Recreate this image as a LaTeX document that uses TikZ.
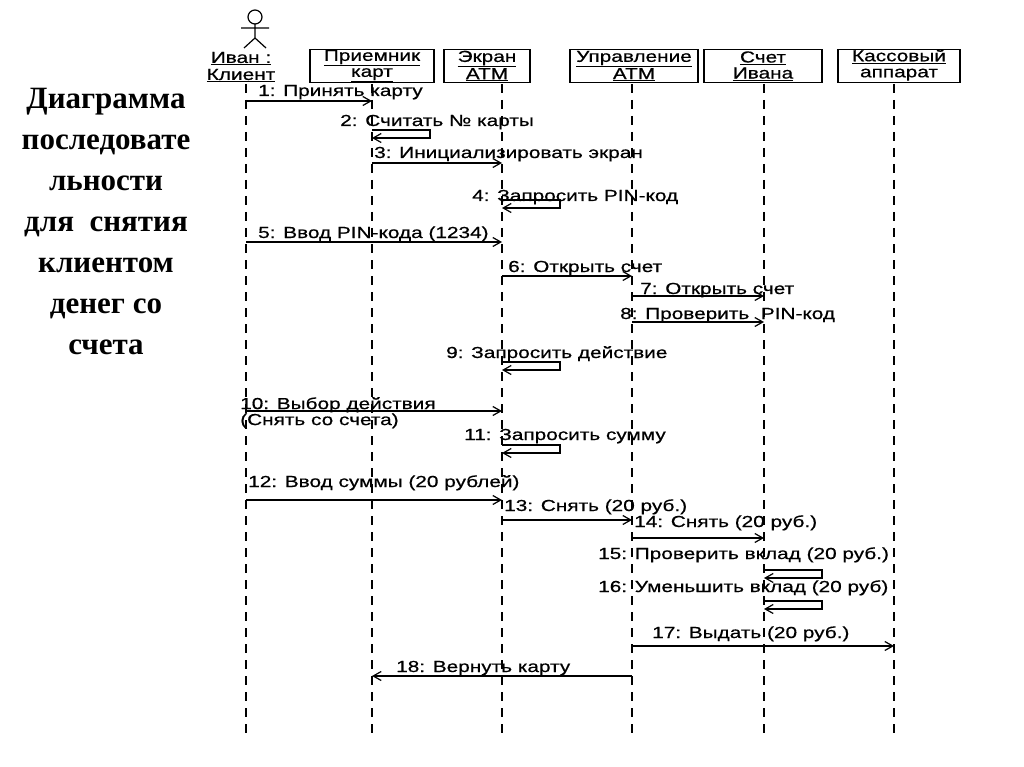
\documentclass[tikz,border=0pt]{standalone}
\usepackage{fontspec}
\setmainfont{Liberation Sans}[FakeStretch=1.3,FakeBold=0.6]
\newfontfamily\titlefont{Liberation Serif}
\usetikzlibrary{arrows.meta}
\begin{document}
\begin{tikzpicture}[x=1pt,y=-1pt,
  obj/.style={draw,line width=1.3pt,minimum height=33pt,inner sep=0pt,font=\fontsize{16}{16}\selectfont,align=center},
  life/.style={line width=1.4pt,dash pattern=on 9pt off 7pt},
  msg/.style={line width=1.2pt,-{Straight Barb[length=8pt,width=9pt]}},
  lab/.style={font=\fontsize{16}{16}\selectfont,anchor=base west,inner sep=0pt},
  every node/.append style={text=black}]
\useasboundingbox (0,0) rectangle (1024,767);
\def\ul#1{\underline{#1}}
% title
\node[font=\titlefont\bfseries\fontsize{31}{41}\selectfont,align=center] (title) at (106,222)
 {Диаграмма\\последовате\\льности\\для \ снятия\\клиентом\\денег со\\счета};
% actor
\draw[line width=1.2pt] (255,17) circle (7);
\draw[line width=1.2pt] (255,24) -- (255,38) (241,28) -- (269,28) (255,38) -- (244,48) (255,38) -- (266,48);
\node[font=\fontsize{16}{17}\selectfont,align=center,inner sep=0pt] (c0) at (241,67) {\ul{Иван :}\\\ul{Клиент}};
\node[obj,minimum width=124pt] (c1) at (372,66) {\ul{Приемник}\\\ul{карт}};
\node[obj,minimum width=86pt] (c2) at (487,66) {\ul{Экран}\\\ul{АТМ}};
\node[obj,minimum width=128pt] (c3) at (634,66) {\ul{Управление}\\\ul{АТМ}};
\node[obj,minimum width=118pt] (c4) at (763,66) {\ul{Счет}\\\ul{Ивана}};
\node[obj,minimum width=122pt] (c5) at (899,66) {\ul{Кассовый}\\\ul{аппарат}};
\foreach \i/\x in {0/246,1/372,2/502,3/632,4/764,5/894}{
  \coordinate (t\i) at (\x,84); \coordinate (b\i) at (\x,740);
  \draw[life] (t\i) -- (b\i);}
\newcommand\mk[2]{\coordinate (#1) at (#2);}
\mk{a1}{246,101}\mk{a1e}{372,101}
\draw[msg] (a1) -- (a1e); \node[lab] (l1) at (258,96) {1: Принять карту};
\mk{s2}{372,130}
\draw[msg] (s2) -- ++(58,0) -- ++(0,8) -- ++(-58,0); \node[lab] (l2) at (340,126) {2: Считать № карты};
\mk{a3}{372,163}\mk{a3e}{502,163}
\draw[msg] (a3) -- (a3e); \node[lab] (l3) at (374,158) {3: Инициализировать экран};
\mk{s4}{502,200}
\draw[msg] (s4) -- ++(58,0) -- ++(0,8) -- ++(-58,0); \node[lab] (l4) at (472,201) {4: Запросить PIN-код};
\mk{a5}{246,242}\mk{a5e}{502,242}
\draw[msg] (a5) -- (a5e); \node[lab] (l5) at (258,238) {5: Ввод PIN-кода (1234)};
\mk{a6}{502,276}\mk{a6e}{632,276}
\draw[msg] (a6) -- (a6e); \node[lab] (l6) at (508,272) {6: Открыть счет};
\mk{a7}{632,296}\mk{a7e}{764,296}
\draw[msg] (a7) -- (a7e); \node[lab] (l7) at (640,294) {7: Открыть счет};
\mk{a8}{632,322}\mk{a8e}{764,322}
\draw[msg] (a8) -- (a8e); \node[lab] (l8) at (620,319) {8: Проверить \ PIN-код};
\mk{s9}{502,362}
\draw[msg] (s9) -- ++(58,0) -- ++(0,8) -- ++(-58,0); \node[lab] (l9) at (446,358) {9: Запросить действие};
\mk{a10}{246,411}\mk{a10e}{502,411}
\draw[msg] (a10) -- (a10e); \node[lab,align=left,anchor=north west] (l10) at (240,397) {10: Выбор действия\\(Снять со счета)};
\mk{s11}{502,445}
\draw[msg] (s11) -- ++(58,0) -- ++(0,8) -- ++(-58,0); \node[lab] (l11) at (464,440) {11: Запросить сумму};
\mk{a12}{246,500}\mk{a12e}{502,500}
\draw[msg] (a12) -- (a12e); \node[lab] (l12) at (248,487) {12: Ввод суммы (20 рублей)};
\mk{a13}{502,520}\mk{a13e}{632,520}
\draw[msg] (a13) -- (a13e); \node[lab] (l13) at (504,511) {13: Снять (20 руб.)};
\mk{a14}{632,538}\mk{a14e}{764,538}
\draw[msg] (a14) -- (a14e); \node[lab] (l14) at (634,527) {14: Снять (20 руб.)};
\mk{s15}{764,570}
\draw[msg] (s15) -- ++(58,0) -- ++(0,8) -- ++(-58,0); \node[lab] (l15) at (598,559) {15: Проверить вклад (20 руб.)};
\mk{s16}{764,601}
\draw[msg] (s16) -- ++(58,0) -- ++(0,8) -- ++(-58,0); \node[lab] (l16) at (598,592) {16: Уменьшить вклад (20 руб)};
\mk{a17}{632,646}\mk{a17e}{894,646}
\draw[msg] (a17) -- (a17e); \node[lab] (l17) at (652,638) {17: Выдать (20 руб.)};
\mk{a18}{632,676}\mk{a18e}{372,676}
\draw[msg] (a18) -- (a18e); \node[lab] (l18) at (396,672) {18: Вернуть карту};
\end{tikzpicture}
\end{document}
